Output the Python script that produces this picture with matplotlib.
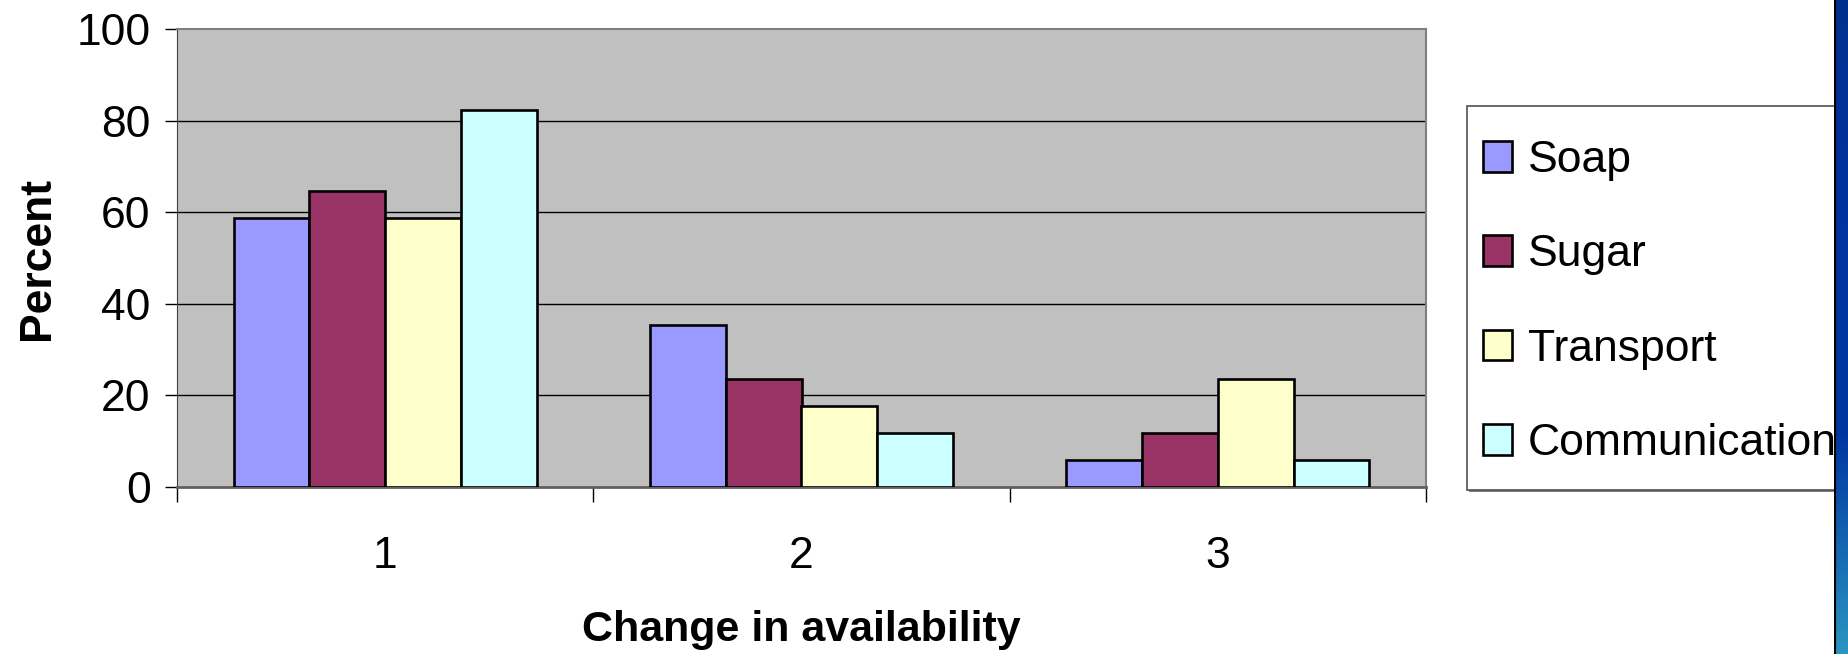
import numpy as np
import matplotlib.pyplot as plt
from matplotlib.patches import Rectangle
from matplotlib.colors import LinearSegmentedColormap

# data
categories = ['1', '2', '3']
series = ['Soap', 'Sugar', 'Transport', 'Communication']
soap = [58.8, 35.3, 5.9]
sugar = [64.7, 23.5, 11.8]
transport = [58.8, 17.6, 23.5]
communication = [82.4, 11.8, 5.9]
colors = ['#9999FF', '#993366', '#FFFFCC', '#CCFFFF']

plt.rcParams['font.family'] = ['Liberation Sans', 'DejaVu Sans']

W, H = 1849, 654
fig = plt.figure(figsize=(W / 100, H / 100), dpi=100)
fig.patch.set_facecolor('white')

# plot area in pixels: left 177, right 1426, top 29, bottom 487
ax = fig.add_axes([177 / W, 1 - 487 / H, (1426 - 177) / W, (487 - 29) / H])
ax.set_facecolor('#C0C0C0')

x = np.arange(len(categories))
w = 1 / 5.5  # gap width 150%
values = [soap, sugar, transport, communication]
for i, (name, vals, c) in enumerate(zip(series, values, colors)):
    ax.bar(x + (i - 1.5) * w, vals, w, color=c, edgecolor='black',
           linewidth=1.9, label=name, zorder=3)

ax.set_xlim(-0.5, 2.5)
ax.set_ylim(0, 100)
ax.set_yticks([0, 20, 40, 60, 80, 100])
ax.tick_params(axis='y', labelsize=32, length=9, width=1, pad=10, direction='out')
ax.set_xticks(x)
ax.set_xticklabels(categories)
ax.tick_params(axis='x', which='major', length=0, labelsize=32, pad=35)
ax.set_xticks([-0.5, 0.5, 1.5, 2.5], minor=True)
ax.tick_params(axis='x', which='minor', length=11, width=1, direction='out')

for v in [20, 40, 60, 80]:
    ax.axhline(v, color='black', lw=1, zorder=1)

for s in ['top', 'right']:
    ax.spines[s].set_color('#808080')
    ax.spines[s].set_linewidth(1.5)
ax.spines['left'].set_color('#404040')
ax.spines['bottom'].set_color('#606060')
ax.spines['bottom'].set_linewidth(2)

ax.set_ylabel('Percent', fontsize=32, fontweight='bold', labelpad=13)
ax.set_xlabel('Change in availability', fontsize=31, fontweight='bold', labelpad=24)

# legend box drawn separately, entries placed by fig.legend
fig.add_artist(Rectangle((1469 / W, 1 - 492 / H), (W - 1469) / W, 384 / H,
                         transform=fig.transFigure, facecolor='#808080',
                         edgecolor='none', zorder=1))
fig.add_artist(Rectangle((1467 / W, 1 - 490 / H), (W - 1467) / W, 384 / H,
                         transform=fig.transFigure, facecolor='white',
                         edgecolor='#505050', linewidth=1.2, zorder=2))
leg = fig.legend(loc='center left', bbox_to_anchor=(1483 / W, 1 - 302 / H),
                 fontsize=32, frameon=False, handlelength=0.65,
                 handleheight=0.68, handletextpad=0.36, labelspacing=1.2,
                 borderpad=0, borderaxespad=0)
leg.set_zorder(5)

# blue strip on the right edge
strip = fig.add_axes([1834 / W, 0, (W - 1834) / W, 1], zorder=10)
cmap = LinearSegmentedColormap.from_list('strip', ['#00308E', '#0033A0', '#0036A0', '#2A95C0'])
strip.imshow(np.linspace(0, 1, 200)[:, None], aspect='auto', cmap=cmap,
             extent=[0, 1, 0, 1], origin='upper')
strip.axvline(0, color='black', lw=3)
strip.set_axis_off()

fig.savefig('out.png', dpi=100)
